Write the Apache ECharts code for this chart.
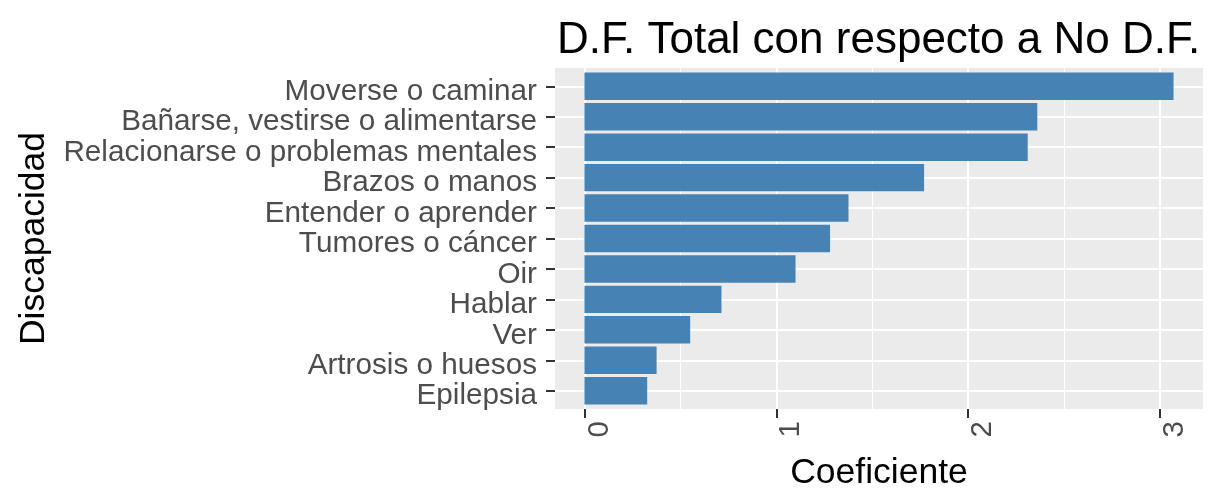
<!DOCTYPE html>
<html>
<head>
<meta charset="utf-8">
<title>D.F. Total con respecto a No D.F.</title>
<script src="https://cdn.jsdelivr.net/npm/echarts@6/dist/echarts.min.js"></script>
<style>
  html, body { margin: 0; padding: 0; background: #ffffff; }
  #chart { width: 1221px; height: 488px; }
</style>
</head>
<body>
<div id="chart"></div>
<script>
// datos (de arriba hacia abajo)
var categorias = [
  'Moverse o caminar',
  'Bañarse, vestirse o alimentarse',
  'Relacionarse o problemas mentales',
  'Brazos o manos',
  'Entender o aprender',
  'Tumores o cáncer',
  'Oir',
  'Hablar',
  'Ver',
  'Artrosis o huesos',
  'Epilepsia'
]
var coeficientes = [3.07, 2.36, 2.31, 1.77, 1.376, 1.28, 1.10, 0.714, 0.551, 0.376, 0.327]

var xTicks = [0, 1, 2, 3]
var xMinorTicks = [0.5, 1.5, 2.5]

var titulo = 'D.F. Total con respecto a No D.F.'
var tituloX = 'Coeficiente'
var tituloY = 'Discapacidad'

var FUENTE = 'Liberation Sans, Arial, sans-serif'
var GRIS_TEXTO = '#4D4D4D'

function drawBarChart(dom) {
  var chart = echarts.init(dom, null, { renderer: 'canvas' })
  var maxVal = Math.max.apply(null, coeficientes)
  // expansion de 5% como en ggplot
  var xMin = -0.05 * maxVal
  var xMax = maxVal * 1.05
  chart.setOption(getOptions(xMin, xMax))
}

function getOptions(xMin, xMax) {
  return {
    backgroundColor: '#ffffff',
    animation: false,
    title: {
      text: titulo,
      left: 552,
      top: 14,
      textStyle: {
        fontFamily: FUENTE,
        fontSize: 44,
        fontWeight: 'normal',
        color: '#000000'
      }
    },
    grid: [
      // panel gris
      {
        left: 555, right: 18, top: 68, bottom: 79,
        show: true, backgroundColor: '#EBEBEB', borderWidth: 0,
        outerBoundsMode: 'none'
      },
      // barras (centros de categoria)
      { left: 555, right: 18, top: 86.3, bottom: 97.3, outerBoundsMode: 'none' }
    ],
    xAxis: [
      {
        type: 'value',
        gridIndex: 0,
        min: xMin,
        max: xMax,
        axisLine: { show: false, onZero: false },
        axisTick: {
          show: true,
          customValues: xTicks,
          length: 9,
          lineStyle: { color: '#333333', width: 2 }
        },
        axisLabel: {
          customValues: xTicks,
          rotate: 90,
          margin: 12,
          align: 'right',
          verticalAlign: 'top',
          fontFamily: FUENTE,
          fontSize: 29.5,
          color: GRIS_TEXTO
        },
        splitLine: { show: true, lineStyle: { color: '#ffffff', width: 2 } },
        name: tituloX,
        nameLocation: 'middle',
        nameGap: 46,
        nameTextStyle: { fontFamily: FUENTE, fontSize: 35.5, color: '#000000' }
      },
      {
        type: 'value',
        gridIndex: 0,
        min: xMin,
        max: xMax,
        axisLine: { show: false, onZero: false },
        axisTick: { show: false, customValues: xMinorTicks },
        axisLabel: { show: false },
        splitLine: { show: true, lineStyle: { color: '#ffffff', width: 1 } }
      },
      {
        type: 'value',
        gridIndex: 1,
        min: xMin,
        max: xMax,
        show: false
      }
    ],
    yAxis: [
      { type: 'value', gridIndex: 0, min: 0, max: 1, show: false },
      {
        type: 'category',
        gridIndex: 1,
        data: categorias,
        inverse: true,
        boundaryGap: false,
        axisLine: { show: false, onZero: false },
        axisTick: { show: true, interval: 0, length: 9, lineStyle: { color: '#333333', width: 2 } },
        axisLabel: {
          interval: 0,
          margin: 18,
          verticalAlign: 'top',
          lineHeight: 11,
          fontFamily: FUENTE,
          fontSize: 29.7,
          color: GRIS_TEXTO
        },
        splitLine: { show: true, interval: 0, lineStyle: { color: '#ffffff', width: 2 } },
        name: tituloY,
        nameLocation: 'middle',
        nameRotate: 90,
        nameGap: 502,
        nameTextStyle: { fontFamily: FUENTE, fontSize: 35.5, color: '#000000' }
      }
    ],
    series: [
      {
        type: 'bar',
        xAxisIndex: 2,
        yAxisIndex: 1,
        data: coeficientes,
        barWidth: 27.4,
        clip: false,
        itemStyle: { color: '#4682B4' }
      }
    ]
  }
}

drawBarChart(document.getElementById('chart'))
</script>
</body>
</html>
